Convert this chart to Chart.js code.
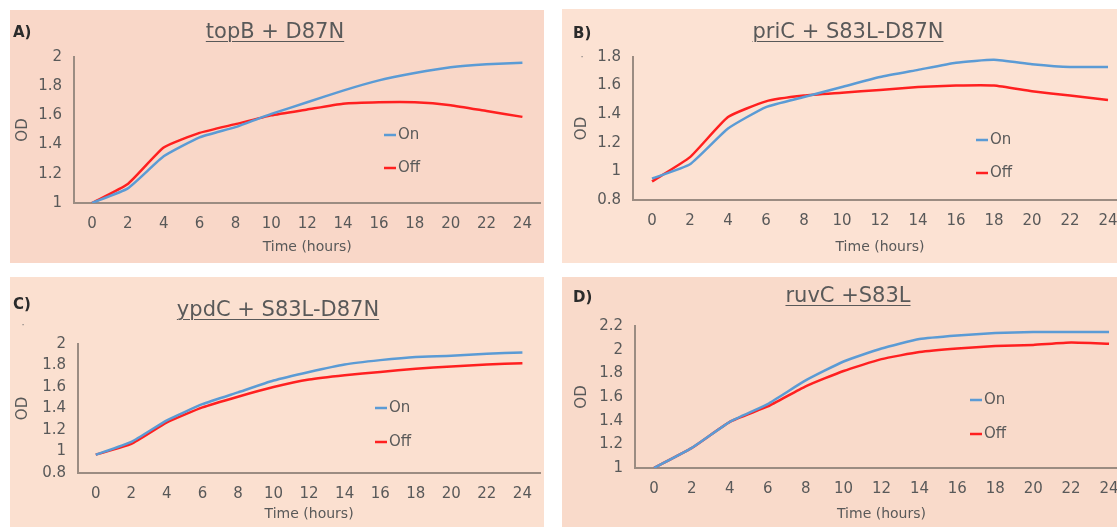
<!DOCTYPE html>
<html>
<head>
<meta charset="utf-8">
<script src="https://cdn.jsdelivr.net/npm/chart.js@4.4.1/dist/chart.umd.min.js"></script>
<style>
  html, body { margin:0; padding:0; background:#ffffff; overflow:hidden; width:1117px; height:527px; }
  .panel { position:absolute; }
  .panel canvas { position:absolute; left:0; top:0; }
  .title { position:absolute; font-family:"DejaVu Sans", sans-serif; font-size:21px; color:#595959;
           text-decoration:underline; text-decoration-thickness:1px; text-underline-offset:3px; white-space:nowrap;
           transform:translate(-50%,-50%); }
  .letter { position:absolute; font-family:"DejaVu Sans", sans-serif; font-weight:bold; font-size:15px; color:#2b2b2b;
            transform:translate(0,-50%); }
  .dot { position:absolute; font-family:"DejaVu Sans", sans-serif; font-size:10px; color:#777; transform:translate(-50%,-50%); }
</style>
</head>
<body>
<script>
// ---- data ----
const hours = ['0','2','4','6','8','10','12','14','16','18','20','22','24'];
const seriesNames = ['On', 'Off'];
const titles = ['topB + D87N', 'priC + S83L-D87N', 'ypdC + S83L-D87N', 'ruvC +S83L'];
const letters = ['A)', 'B)', 'C)', 'D)'];

const onA  = [1.00, 1.10, 1.32, 1.45, 1.52, 1.61, 1.69, 1.77, 1.84, 1.89, 1.93, 1.95, 1.96];
const offA = [1.00, 1.13, 1.38, 1.48, 1.54, 1.60, 1.64, 1.68, 1.69, 1.69, 1.67, 1.63, 1.59];
const onB  = [0.95, 1.05, 1.30, 1.45, 1.52, 1.59, 1.66, 1.71, 1.76, 1.78, 1.75, 1.73, 1.73];
const offB = [0.93, 1.10, 1.38, 1.49, 1.53, 1.55, 1.57, 1.59, 1.60, 1.60, 1.56, 1.53, 1.50];
const onC  = [0.97, 1.09, 1.29, 1.44, 1.55, 1.66, 1.74, 1.81, 1.85, 1.88, 1.89, 1.91, 1.92];
const offC = [0.97, 1.07, 1.27, 1.41, 1.51, 1.60, 1.67, 1.71, 1.74, 1.77, 1.79, 1.81, 1.82];
const onD  = [1.00, 1.17, 1.39, 1.54, 1.74, 1.90, 2.01, 2.09, 2.12, 2.14, 2.15, 2.15, 2.15];
const offD = [1.00, 1.17, 1.39, 1.52, 1.69, 1.82, 1.92, 1.98, 2.01, 2.03, 2.04, 2.06, 2.05];

const yRangeA = [1, 2];
const yRangeB = [0.8, 1.8];
const yRangeC = [0.8, 2];
const yRangeD = [1, 2.2];
const yStep = 0.2;

// ---- layout / style ----
const colors = { on:'#5B9BD5', off:'#FF2020', text:'#595959', axis:'#9b8c82' };
const panels = [
  { x:10,  y:10,  w:534, h:253, bg:'#F9D7C8', area:{l:64, t:47, r:533, b:193}, on:onA, off:offA, yr:yRangeA,
    odPad:4, timePad:7, leg:{x:374, y:125, dy:33}, title:{x:275, y:31}, letter:{x:13, y:32}, dot:null },
  { x:562, y:9,   w:575, h:254, bg:'#FCE2D3', area:{l:71, t:48, r:565, b:191}, on:onB, off:offB, yr:yRangeB,
    odPad:11, timePad:7, leg:{x:414, y:131, dy:33}, title:{x:848, y:31}, letter:{x:573, y:33}, dot:{x:582, y:56} },
  { x:10,  y:277, w:534, h:250, bg:'#FBE0D0', area:{l:68, t:67, r:533, b:196}, on:onC, off:offC, yr:yRangeC,
    odPad:4, timePad:4, leg:{x:365, y:131, dy:34}, title:{x:278, y:309}, letter:{x:13, y:304}, dot:{x:23, y:324} },
  { x:562, y:277, w:575, h:250, bg:'#F9DACA', area:{l:73, t:49, r:566, b:191}, on:onD, off:offD, yr:yRangeD,
    odPad:11, timePad:4, leg:{x:408, y:123, dy:34}, title:{x:848, y:295}, letter:{x:573, y:297}, dot:null }
];

const FONT = '"DejaVu Sans", sans-serif';

const legendPlugin = {
  id:'customLegend',
  afterDraw(chart, args, opts) {
    const ctx = chart.ctx;
    ctx.save();
    chart.data.datasets.forEach((ds, i) => {
      const y = opts.y + i * opts.dy;
      ctx.strokeStyle = ds.borderColor;
      ctx.lineWidth = 2.5;
      ctx.beginPath();
      ctx.moveTo(opts.x, y);
      ctx.lineTo(opts.x + 12, y);
      ctx.stroke();
      ctx.fillStyle = colors.text;
      ctx.font = '15px ' + FONT;
      ctx.textBaseline = 'middle';
      ctx.textAlign = 'left';
      ctx.fillText(ds.label, opts.x + 14, y);
    });
    ctx.restore();
  }
};

panels.forEach((p, idx) => {
  const div = document.createElement('div');
  div.className = 'panel';
  div.style.left = p.x + 'px'; div.style.top = p.y + 'px';
  div.style.width = p.w + 'px'; div.style.height = p.h + 'px';
  div.style.background = p.bg;
  const cv = document.createElement('canvas');
  cv.width = p.w; cv.height = p.h;
  cv.style.width = p.w + 'px'; cv.style.height = p.h + 'px';
  div.appendChild(cv);
  document.body.appendChild(div);

  const t = document.createElement('div');
  t.className = 'title'; t.textContent = titles[idx];
  t.style.left = p.title.x + 'px'; t.style.top = p.title.y + 'px';
  document.body.appendChild(t);
  const l = document.createElement('div');
  l.className = 'letter'; l.textContent = letters[idx];
  l.style.left = p.letter.x + 'px'; l.style.top = p.letter.y + 'px';
  document.body.appendChild(l);
  if (p.dot) {
    const d = document.createElement('div');
    d.className = 'dot'; d.textContent = '·';
    d.style.left = p.dot.x + 'px'; d.style.top = p.dot.y + 'px';
    document.body.appendChild(d);
  }

  new Chart(cv, {
    type:'line',
    data:{
      labels: hours,
      datasets:[
        { label:seriesNames[0], data:p.on,  borderColor:colors.on,  borderWidth:2.5, pointRadius:0, tension:0.15, fill:false },
        { label:seriesNames[1], data:p.off, borderColor:colors.off, borderWidth:2.5, pointRadius:0, tension:0.15, fill:false }
      ]
    },
    options:{
      responsive:false, animation:false, devicePixelRatio:1,
      layout:{ padding:{ top:p.area.t, right:p.w - p.area.r, left:0, bottom:0 } },
      plugins:{ legend:{display:false}, tooltip:{enabled:false}, customLegend:p.leg },
      scales:{
        x:{
          type:'category', offset:true,
          grid:{ display:false, drawTicks:false },
          border:{ display:true, color:colors.axis, width:2 },
          ticks:{ color:colors.text, font:{family:FONT, size:15}, padding:12, maxRotation:0, autoSkip:false },
          title:{ display:true, text:'Time (hours)', color:colors.text, font:{family:FONT, size:14}, padding:{top:0, bottom:p.timePad} },
          afterFit(s){ s.height = p.h - p.area.b; }
        },
        y:{
          min:p.yr[0], max:p.yr[1],
          grid:{ display:false, drawTicks:false },
          border:{ display:true, color:colors.axis, width:2 },
          ticks:{ stepSize:yStep, color:colors.text, font:{family:FONT, size:15}, padding:12,
                  callback:(v)=> String(+v.toFixed(1)) },
          title:{ display:true, text:'OD', color:colors.text, font:{family:FONT, size:15}, padding:{top:p.odPad, bottom:0} },
          afterFit(s){ s.width = p.area.l; }
        }
      }
    },
    plugins:[legendPlugin]
  });
});
</script>
</body>
</html>
